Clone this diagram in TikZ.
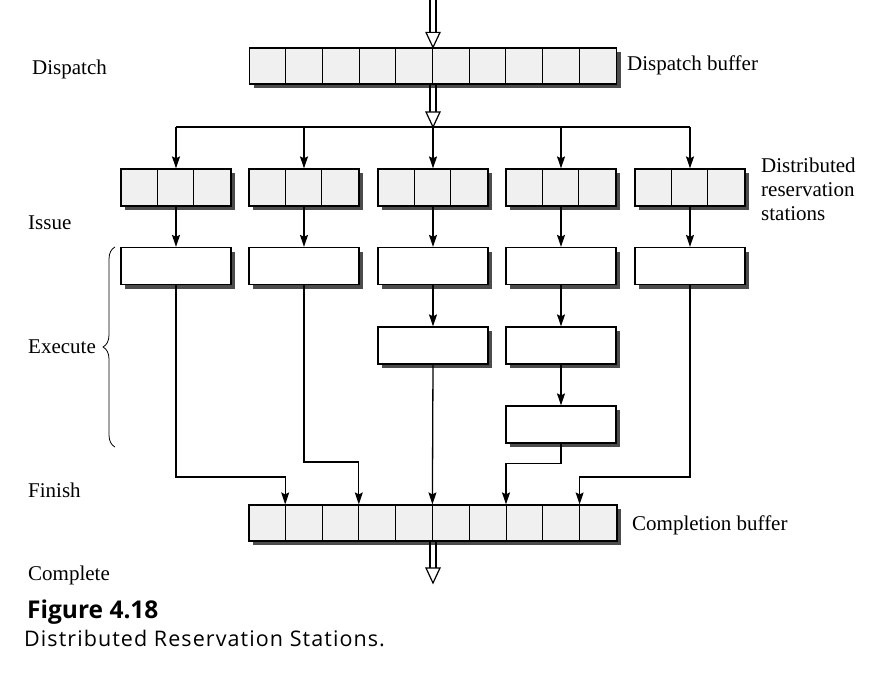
\documentclass[tikz,border=0pt]{standalone}
\usepackage{fontspec}
\setmainfont{Liberation Serif}
\newfontfamily\capfont{Open Sans}
\newfontfamily\capwidefont[LetterSpace=5]{Open Sans}
\usetikzlibrary{arrows.meta,shadows,decorations.pathreplacing}

\tikzstyle{arrow} = [line width=1.3pt,-{Stealth[length=12pt,width=8pt,inset=2pt]}]
\tikzstyle{buffer} = [draw, line width=1.2pt, fill=gray!12, inner sep=0pt, minimum height=36pt,
	drop shadow={shadow xshift=4pt, shadow yshift=-4pt, fill=black!70, opacity=1}]
\tikzstyle{unit} = [buffer, fill=white, minimum width=110pt, minimum height=37pt]
\tikzstyle{stage} = [anchor=west, inner sep=0pt, text height=14pt, text depth=4pt,
	font=\fontsize{21}{24}\selectfont]

% hollow double arrow: #1 start, #2 tip
\newcommand\Hollow[2]{%
	\draw[line width=1.2pt] ([xshift=-3pt]#1) -- ([xshift=-3pt,yshift=15pt]#2)
		([xshift=3pt]#1) -- ([xshift=3pt,yshift=15pt]#2);
	\draw[line width=1.2pt, fill=white, line join=miter] (#2) -- ([xshift=-7pt,yshift=15pt]#2)
		-- ([xshift=7pt,yshift=15pt]#2) -- cycle;
	}

\begin{document}
\begin{tikzpicture}[x=1pt,y=-1pt]
\useasboundingbox (0,0) rectangle (878,674);

% buffers
\node[buffer, minimum width=367pt] (dbuf) at (433,66) {};
\node[buffer, minimum width=368pt] (cbuf) at (433,523) {};
\foreach \k in {1,...,9}{
	\draw[line width=1pt] ([xshift=\k*36.7pt]dbuf.north west) -- ([xshift=\k*36.7pt]dbuf.south west);
	\draw[line width=1pt] ([xshift=\k*36.8pt]cbuf.north west) -- ([xshift=\k*36.8pt]cbuf.south west);
}

% reservation stations and execution units
\foreach \i/\x in {1/176,2/304,3/433,4/561,5/690}{
	\node[buffer, minimum width=110pt, minimum height=37pt] (rs\i) at (\x,187.5) {};
	\draw[line width=1pt] ([xshift=36.7pt]rs\i.north west) -- ([xshift=36.7pt]rs\i.south west);
	\draw[line width=1pt] ([xshift=73.3pt]rs\i.north west) -- ([xshift=73.3pt]rs\i.south west);
	\node[unit] (ex\i) at (\x,266) {};
	\draw[arrow] (rs\i.south) -- (ex\i.north);
}
\node[unit] (ex3b) at (433,345.5) {};
\node[unit] (ex4b) at (561,345.5) {};
\node[unit] (ex4c) at (561,424.5) {};
\draw[arrow] (ex3.south) -- (ex3b.north);
\draw[arrow] (ex4.south) -- (ex4b.north);
\draw[arrow] (ex4b.south) -- (ex4c.north);

% dispatch
\coordinate (feed) at (433,0);
\coordinate (bus) at (433,127);
\coordinate (out) at (433,583);
\Hollow{feed}{dbuf.north}
\Hollow{dbuf.south}{bus}
\draw[line width=1.3pt] (rs1 |- bus) -- (rs5 |- bus);
\foreach \i in {1,...,5}
	\draw[arrow] (rs\i |- bus) -- (rs\i.north);

% finish
\foreach \k in {1,3,5,7,9}
	\coordinate (in\k) at ([xshift=\k*36.8pt]cbuf.north west);
\draw[arrow] (ex1.south) -- ++(0,192) -| (in1);
\draw[arrow] (ex2.south) -- ++(0,177) -| (in3);
\draw[arrow] (ex3b.south) -- (in5);
\draw[arrow] (ex4c.south) -- ++(0,20) -| (in7);
\draw[arrow] (ex5.south) -- ++(0,192) -| (in9);
\Hollow{cbuf.south}{out}

% labels
\node[stage] (dl) at (32,70) {Dispatch};
\node[stage] (il) at (28,224) {Issue};
\node[stage] (xl) at (28,348) {Execute};
\node[stage] (fl) at (28,492) {Finish};
\node[stage] (cl) at (28,575) {Complete};
\node[stage] (dbl) at (627,66) {Dispatch buffer};
\node[stage] (cbl) at (632,525) {Completion buffer};
\node[anchor=west, inner sep=0pt, align=left, font=\fontsize{21}{24}\selectfont] (rsl) at (761,189)
	{Distributed\\reservation\\stations};
\draw[line width=0.8pt, decorate, decoration={brace, amplitude=12pt}] (115,447) -- (115,247);

% caption
\node[anchor=west, inner sep=0pt, font=\capfont\bfseries\fontsize{24.5}{28}\selectfont] (fig) at (27,612) {Figure 4.18};
\node[anchor=west, inner sep=0pt, font=\capwidefont\fontsize{21.5}{24}\selectfont] (cap) at (24,638) {Distributed Reservation Stations.};

\end{tikzpicture}
\end{document}
